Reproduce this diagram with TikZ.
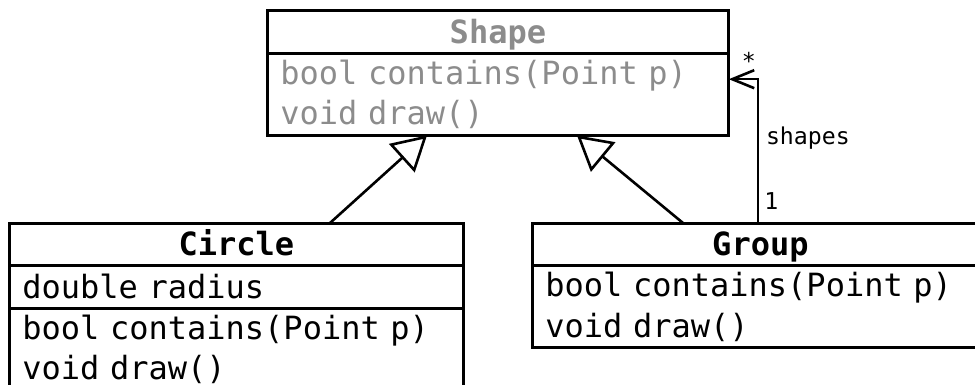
\documentclass[tikz,border=0pt]{standalone}
\usepackage{fontspec}
\setmonofont{DejaVu Sans Mono}
\usepackage{xcolor}
\usepackage{tikz}
\usetikzlibrary{positioning}
\usetikzlibrary{arrows.meta}
\definecolor{abstractgray}{HTML}{8C8C8C}
\newcommand{\umlfont}{\ttfamily\fontsize{16}{20}\selectfont}
\tikzset{
	class name/.style={font=\umlfont\bfseries,inner xsep=6.5pt,inner ysep=0pt,
		text height=16pt,text depth=5pt,anchor=north west,align=center},
	attribute/.style={font=\umlfont,inner xsep=6.5pt,inner ysep=0pt,
		text height=16pt,text depth=5pt,align=left},
	member/.style={font=\umlfont,inner xsep=6.5pt,inner ysep=0pt,
		text height=15pt,text depth=5pt,align=left},
	role/.style={font=\ttfamily\fontsize{11.6}{14}\selectfont,inner sep=0pt},
	box/.style={draw,line width=1.5pt},
	inherit/.style={-{Triangle[open,length=17pt,width=19pt]},line width=1.3pt},
	assoc/.style={-{Straight Barb[length=11pt,width=9pt]},line width=1.3pt}
}

\begin{document}
\begin{tikzpicture}
	\useasboundingbox (0,0) rectangle (487.5pt,-192.5pt);

	% abstract base class
	\node[class name,text=abstractgray,text width=217.5pt] (shapename) at (133.5pt,-5.5pt) {Shape};
	\node[member,text=abstractgray,text width=217.5pt,below=0pt of shapename] (shapeop1) {bool contains(Point p)};
	\node[member,text=abstractgray,text width=217.5pt,below=0pt of shapeop1] (shapeop2) {void draw()};
	\draw[box] (shapename.north west) rectangle (shapename.south east);
	\draw[box] (shapeop1.north west) rectangle (shapeop2.south east);

	% Circle
	\node[class name,text width=214pt] (circlename) at (4.5pt,-111.5pt) {Circle};
	\node[attribute,text width=214pt,below=0pt of circlename] (circleattr) {double radius};
	\node[member,text width=214pt,below=0pt of circleattr] (circleop1) {bool contains(Point p)};
	\node[member,text width=214pt,below=0pt of circleop1] (circleop2) {void draw()};
	\draw[box] (circlename.north west) rectangle (circlename.south east);
	\draw[box] (circleattr.north west) rectangle (circleattr.south east);
	\draw[box] (circleop1.north west) rectangle (circleop2.south east);

	% Group
	\node[class name,text width=215pt] (groupname) at (266pt,-111.5pt) {Group};
	\node[member,text width=215pt,below=0pt of groupname] (groupop1) {bool contains(Point p)};
	\node[member,text width=215pt,below=0pt of groupop1] (groupop2) {void draw()};
	\draw[box] (groupname.north west) rectangle (groupname.south east);
	\draw[box] (groupop1.north west) rectangle (groupop2.south east);

	% connectors
	\coordinate (circleup) at ([xshift=160.5pt]circlename.north west);
	\coordinate (groupup) at ([xshift=75.5pt]groupname.north west);
	\coordinate (groupself) at ([xshift=113pt]groupname.north west);
	\coordinate (shapeinl) at ([xshift=80pt]shapeop2.south west);
	\coordinate (shapeinr) at ([xshift=155pt]shapeop2.south west);
	\coordinate (shapeside) at ([yshift=-2.5pt]shapeop1.east);

	\draw[inherit] (circleup) -- (shapeinl);
	\draw[inherit] (groupup) -- (shapeinr);
	\draw[assoc] (groupself) |- (shapeside);

	\node[role,anchor=base] (many) at ([shift={(10pt,4.7pt)}]shapeside) {*};
	\node[role,anchor=base west] (rolename) at ([shift={(3.8pt,39pt)}]groupself) {shapes};
	\node[role,anchor=base west] (one) at ([shift={(3pt,6.5pt)}]groupself) {1};
\end{tikzpicture}
\end{document}
